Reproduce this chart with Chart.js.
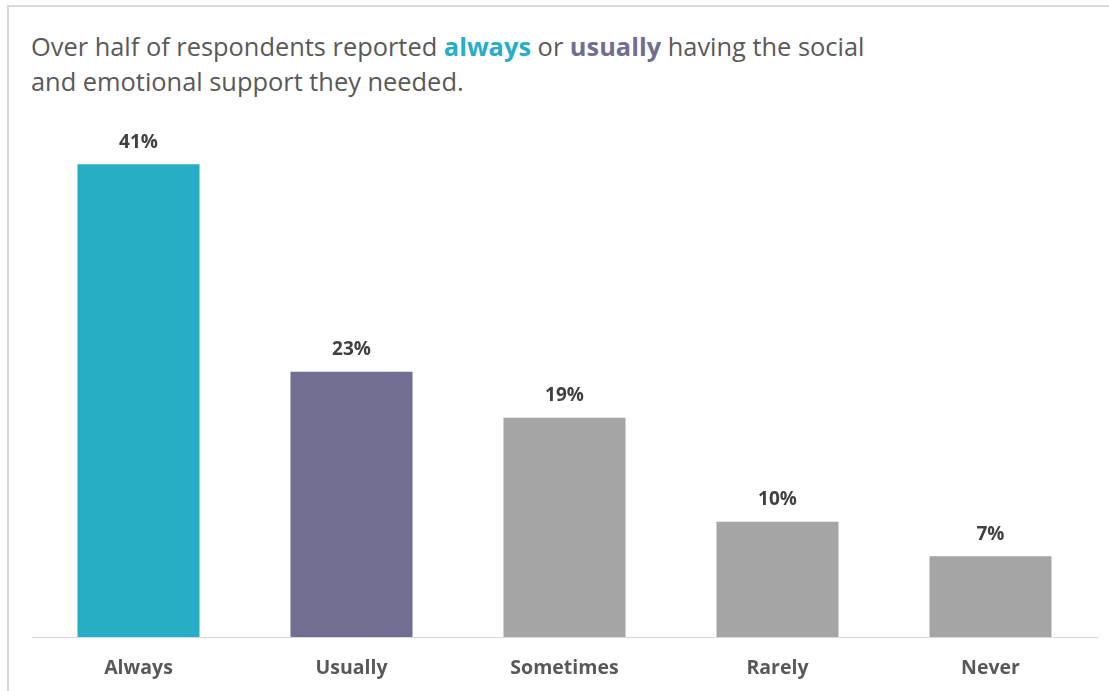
<!DOCTYPE html>
<html>
<head>
<meta charset="utf-8">
<script src="https://cdn.jsdelivr.net/npm/chart.js@4.4.1/dist/chart.umd.min.js"></script>
<style>
  html, body { margin: 0; padding: 0; background: #fff; }
  body { width: 1109px; height: 691px; position: relative; overflow: hidden; }
  /* рамка вокруг графика */
  #frame {
    position: absolute; left: 7px; top: 5px; width: 1200px; height: 800px;
    border-left: 2px solid #d9d9d9; border-top: 2px solid #d9d9d9;
  }
  #title {
    position: absolute; left: 31px; top: 29px;
    font-family: "Open Sans", sans-serif; font-size: 25.4px; line-height: 35px;
    color: #595959; white-space: nowrap;
  }
  #title b { font-weight: 700; }
  .always { color: #27aec6; }
  .usually { color: #716f91; }
  #wrap { position: absolute; left: 0; top: 0; width: 1109px; height: 691px; }
</style>
</head>
<body>
<div id="frame"></div>
<div id="title">Over half of respondents reported <b class="always">always</b> or <b class="usually">usually</b> having the social<br>and emotional support they needed.</div>
<div id="wrap"><canvas id="chart"></canvas></div>
<script>
// данные
var categories = ['Always', 'Usually', 'Sometimes', 'Rarely', 'Never'];
var percents = [41, 23, 19, 10, 7];
var barColors = ['#27aec6', '#716f91', '#a5a5a5', '#a5a5a5', '#a5a5a5'];

// подписи значений над столбиками
var valueLabels = {
    id: 'valueLabels',
    afterDatasetsDraw: function (chart) {
        var ctx = chart.ctx;
        var meta = chart.getDatasetMeta(0);
        ctx.save();
        ctx.font = 'bold 19px "Open Sans", sans-serif';
        ctx.fillStyle = '#404040';
        ctx.textAlign = 'center';
        ctx.textBaseline = 'middle';
        meta.data.forEach(function (bar, i) {
            ctx.fillText(percents[i] + '%', bar.x, bar.y - 22);
        });
        ctx.restore();
    }
};

var ctx = document.getElementById('chart');
var myChart = new Chart(ctx, {
    type: 'bar',
    data: {
        labels: categories,
        datasets: [{
            data: percents,
            backgroundColor: barColors,
            categoryPercentage: 1,
            barPercentage: 0.573
        }]
    },
    options: {
        responsive: true,
        maintainAspectRatio: false,
        animation: false,
        events: [],
        layout: { padding: { left: 32, right: 12, top: 118, bottom: 0 } },
        plugins: {
            legend: { display: false },
            tooltip: { enabled: false }
        },
        scales: {
            x: {
                grid: { display: false },
                border: { display: true, color: '#d9d9d9', width: 1 },
                ticks: {
                    color: '#595959',
                    font: { family: '"Open Sans", sans-serif', size: 19.5, weight: 'bold' },
                    padding: 12
                },
                afterFit: function (scale) { scale.height = 54; }
            },
            y: {
                display: false,
                min: 0,
                max: 45
            }
        }
    },
    plugins: [valueLabels]
});
</script>
</body>
</html>
